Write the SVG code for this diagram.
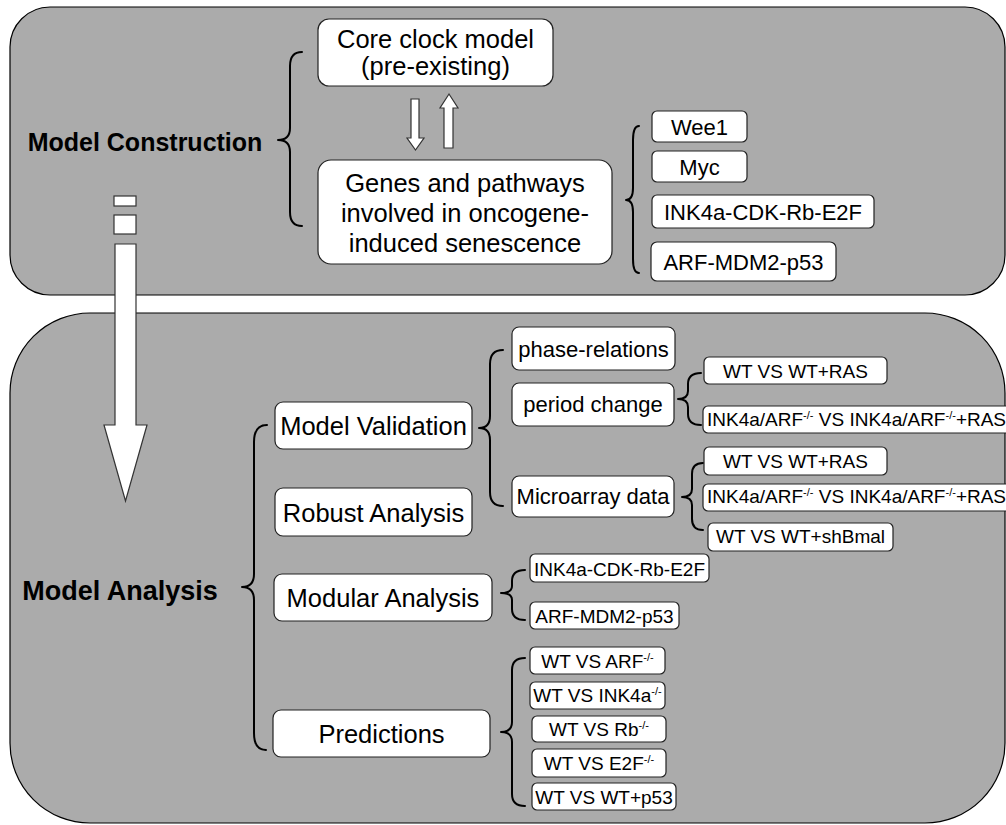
<svg xmlns="http://www.w3.org/2000/svg" width="1006" height="825" viewBox="0 0 1006 825">
  <defs>
    <style>
      .panel { fill: #ababab; stroke: #000; stroke-width: 1.2; }
      .box { fill: #fff; stroke: #222; stroke-width: 1.2; }
      .brace { fill: none; stroke: #000; stroke-width: 2; stroke-linecap: round; stroke-linejoin: round; }
      .flow { fill: #fff; stroke: #333; stroke-width: 1.2; }
      text { font-family: "Liberation Sans", Arial, sans-serif; fill: #000; }
      .head { font-size: 25px; font-weight: bold; text-anchor: middle; }
      .big { font-size: 25.5px; text-anchor: middle; }
      .mid { font-size: 22px; text-anchor: middle; }
      .sm { font-size: 19px; text-anchor: middle; }
      .sm-left { font-size: 19px; text-anchor: start; }
      .sup { font-size: 11px; }
    </style>
  </defs>

  <!-- background panels -->
  <rect id="panel-construction" class="panel" x="10" y="7" width="995" height="288" rx="40" ry="40"/>
  <rect id="panel-analysis" class="panel" x="10" y="313" width="995" height="510" rx="80" ry="80"/>

  <!-- flow arrow from construction to analysis -->
  <g id="flow-arrow">
    <rect class="flow" x="114" y="196" width="22" height="10"/>
    <rect class="flow" x="114" y="215" width="22" height="19"/>
    <polygon class="flow" points="115,244 136,244 136,425 147,425 125.5,501 104,425 115,425"/>
  </g>

  <!-- connectors: braces and exchange arrows -->
  <g id="connectors">
    <!-- Model Construction brace -->
    <path class="brace" d="M302,52 Q290,52 290,66 L290,128 Q290,140 278,140 Q290,140 290,152 L290,212 Q290,226 302,226"/>
    <!-- exchange arrows between core clock and genes -->
    <polygon class="flow" points="411,99 419,99 419,138 424,138 415.5,150 407,138 411,138"/>
    <polygon class="flow" points="444,148 453,148 453,108 458,108 449,94 440,108 444,108"/>
    <!-- genes brace -->
    <path class="brace" d="M639,126 Q633,126 633,140 L633,188 Q633,200 626,200 Q633,200 633,212 L633,259 Q633,273 639,273"/>
    <!-- Model Analysis brace -->
    <path class="brace" d="M267,425 Q254,425 254,442 L254,574 Q254,587 242,587 Q254,587 254,600 L254,733 Q254,750 266,750"/>
    <!-- Model Validation brace -->
    <path class="brace" d="M503,350 Q490,350 490,364 L490,416 Q490,428 479,428 Q490,428 490,440 L490,492 Q490,506 503,506"/>
    <!-- period change brace -->
    <path class="brace" d="M701,373 Q688,373 688,384 L688,391 Q688,399 678,399 Q688,399 688,407 L688,414 Q688,425 701,425"/>
    <!-- microarray brace -->
    <path class="brace" d="M703,463 Q692,463 692,474 L692,489 Q692,497 682,497 Q692,497 692,505 L692,519 Q692,530 703,530"/>
    <!-- modular analysis brace -->
    <path class="brace" d="M525,570 Q512,570 512,581 L512,586 Q512,593 501,593 Q512,593 512,600 L512,609 Q512,620 525,620"/>
    <!-- predictions brace -->
    <path class="brace" d="M525,658 Q512,658 512,670 L512,722 Q512,732 501,732 Q512,732 512,742 L512,794 Q512,806 525,806"/>
  </g>

  <!-- section headings -->
  <text id="label-construction" class="head" x="145" y="151">Model Construction</text>
  <text id="label-analysis" class="head" x="120" y="600" style="font-size:27px">Model Analysis</text>

  <!-- construction nodes -->
  <g id="node-core-clock">
    <rect class="box" x="318" y="19" width="235" height="67" rx="11"/>
    <text class="big" x="435.5" y="48">Core clock model</text>
    <text class="big" x="435.5" y="75">(pre-existing)</text>
  </g>
  <g id="node-genes">
    <rect class="box" x="318" y="160" width="294" height="104" rx="13"/>
    <text class="big" x="465" y="192">Genes and pathways</text>
    <text class="big" x="465" y="222">involved in oncogene-</text>
    <text class="big" x="465" y="252">induced senescence</text>
  </g>
  <g id="node-wee1">
    <rect class="box" x="652" y="111" width="95" height="31" rx="5"/>
    <text class="mid" x="699.5" y="135">Wee1</text>
  </g>
  <g id="node-myc">
    <rect class="box" x="652" y="151" width="95" height="31" rx="5"/>
    <text class="mid" x="699.5" y="175">Myc</text>
  </g>
  <g id="node-ink4a-top">
    <rect class="box" x="652" y="195" width="222" height="33" rx="5"/>
    <text class="mid" x="763" y="220">INK4a-CDK-Rb-E2F</text>
  </g>
  <g id="node-arf-top">
    <rect class="box" x="651" y="242" width="185" height="39" rx="6"/>
    <text class="mid" x="743.5" y="270">ARF-MDM2-p53</text>
  </g>

  <!-- analysis nodes -->
  <g id="node-validation">
    <rect class="box" x="275" y="402" width="197" height="47" rx="8"/>
    <text class="big" x="373.5" y="435">Model Validation</text>
  </g>
  <g id="node-robust">
    <rect class="box" x="275" y="488" width="197" height="48" rx="8"/>
    <text class="big" x="373.5" y="522">Robust Analysis</text>
  </g>
  <g id="node-modular">
    <rect class="box" x="274" y="574" width="218" height="47" rx="8"/>
    <text class="big" x="383" y="607">Modular Analysis</text>
  </g>
  <g id="node-predictions">
    <rect class="box" x="273" y="710" width="217" height="47" rx="8"/>
    <text class="big" x="381.5" y="743">Predictions</text>
  </g>

  <g id="node-phase">
    <rect class="box" x="512" y="327" width="163" height="43" rx="7"/>
    <text class="mid" x="593.5" y="357">phase-relations</text>
  </g>
  <g id="node-period">
    <rect class="box" x="512" y="383" width="162" height="43" rx="7"/>
    <text class="mid" x="593" y="412">period change</text>
  </g>
  <g id="node-microarray">
    <rect class="box" x="512" y="476" width="162" height="41" rx="7"/>
    <text class="mid" x="593" y="504">Microarray data</text>
  </g>

  <g id="node-period-ras">
    <rect class="box" x="704" y="357" width="183" height="27" rx="5"/>
    <text class="sm" x="795.5" y="378">WT VS WT+RAS</text>
  </g>
  <g id="node-period-ink4a">
    <rect class="box" x="703" y="406" width="310" height="27" rx="5"/>
    <text class="sm-left" x="707" y="426">INK4a/ARF<tspan class="sup" dy="-7">-/-</tspan><tspan dy="7"> VS INK4a/ARF</tspan><tspan class="sup" dy="-7">-/-</tspan><tspan dy="7">+RAS</tspan></text>
  </g>
  <g id="node-micro-ras">
    <rect class="box" x="704" y="447" width="183" height="28" rx="5"/>
    <text class="sm" x="795.5" y="468">WT VS WT+RAS</text>
  </g>
  <g id="node-micro-ink4a">
    <rect class="box" x="703" y="484" width="310" height="27" rx="5"/>
    <text class="sm-left" x="707" y="503">INK4a/ARF<tspan class="sup" dy="-7">-/-</tspan><tspan dy="7"> VS INK4a/ARF</tspan><tspan class="sup" dy="-7">-/-</tspan><tspan dy="7">+RAS</tspan></text>
  </g>
  <g id="node-micro-shbmal">
    <rect class="box" x="708" y="523" width="185" height="28" rx="5"/>
    <text class="sm" x="800.5" y="543">WT VS WT+shBmal</text>
  </g>

  <g id="node-ink4a-bottom">
    <rect class="box" x="530" y="554" width="179" height="28" rx="5"/>
    <text class="sm" x="619.5" y="576">INK4a-CDK-Rb-E2F</text>
  </g>
  <g id="node-arf-bottom">
    <rect class="box" x="530" y="602" width="149" height="27" rx="5"/>
    <text class="sm" x="604.5" y="623">ARF-MDM2-p53</text>
  </g>

  <g id="node-pred-arf">
    <rect class="box" x="530" y="647" width="135" height="27" rx="5"/>
    <text class="sm" x="597.5" y="668">WT VS ARF<tspan class="sup" dy="-7">-/-</tspan></text>
  </g>
  <g id="node-pred-ink4a">
    <rect class="box" x="530" y="682" width="135" height="27" rx="5"/>
    <text class="sm" x="597.5" y="702">WT VS INK4a<tspan class="sup" dy="-7">-/-</tspan></text>
  </g>
  <g id="node-pred-rb">
    <rect class="box" x="532" y="716" width="134" height="26" rx="5"/>
    <text class="sm" x="599" y="736">WT VS Rb<tspan class="sup" dy="-7">-/-</tspan></text>
  </g>
  <g id="node-pred-e2f">
    <rect class="box" x="532" y="749" width="134" height="28" rx="5"/>
    <text class="sm" x="599" y="770">WT VS E2F<tspan class="sup" dy="-7">-/-</tspan></text>
  </g>
  <g id="node-pred-p53">
    <rect class="box" x="532" y="783" width="144" height="27" rx="5"/>
    <text class="sm" x="604" y="804">WT VS WT+p53</text>
  </g>
</svg>
